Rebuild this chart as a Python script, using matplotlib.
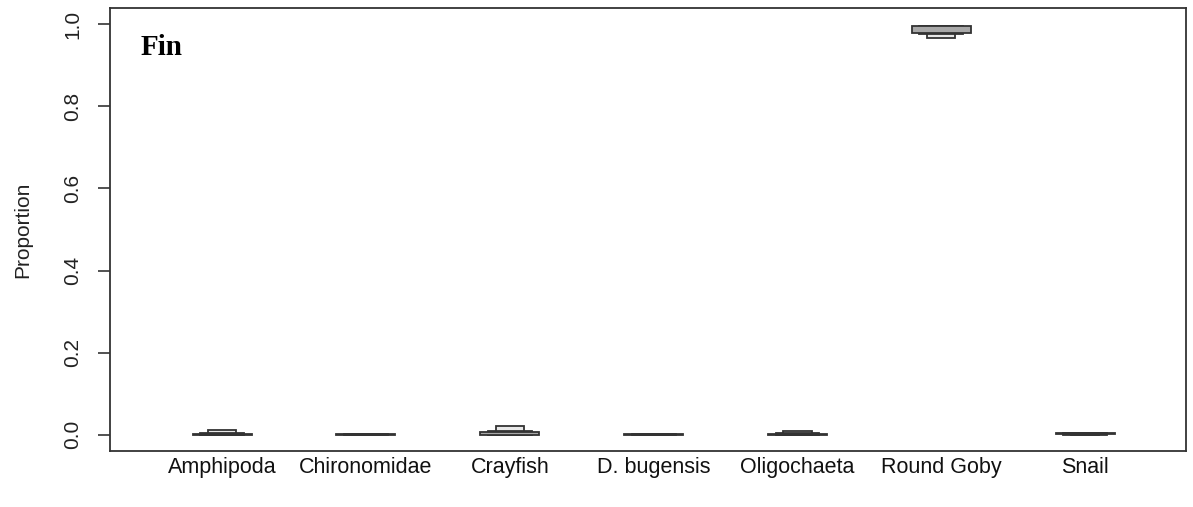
import matplotlib
matplotlib.use('Agg')
import matplotlib.pyplot as plt
import numpy as np

plt.rcParams['font.family'] = ['Liberation Sans', 'DejaVu Sans']

# sources and posterior credible intervals
sources = ['Amphipoda', 'Chironomidae', 'Crayfish', 'D. bugensis',
           'Oligochaeta', 'Round Goby', 'Snail']
ci50_lo = [0.000, 0.000, 0.000, 0.000, 0.000, 0.980, 0.001]
ci50_hi = [0.002, 0.001, 0.007, 0.001, 0.002, 0.995, 0.003]
ci75_lo = [0.000, 0.000, 0.000, 0.000, 0.000, 0.976, 0.000]
ci75_hi = [0.003, 0.001, 0.009, 0.002, 0.004, 0.996, 0.004]
ci95_lo = [0.000, 0.000, 0.000, 0.000, 0.000, 0.968, 0.000]
ci95_hi = [0.010, 0.002, 0.022, 0.002, 0.008, 0.997, 0.005]

x = np.arange(1, len(sources) + 1)
edge = '#333333'

fig = plt.figure(figsize=(11.93, 5.07), dpi=100)
ax = fig.add_axes([0.0922, 0.1105, 0.9019, 0.8737])

# narrowest/lightest first, widest on top
ax.bar(x, np.array(ci95_hi) - np.array(ci95_lo), bottom=ci95_lo, width=0.195,
       color='#e8e8e8', edgecolor=edge, linewidth=1.3, zorder=2)
ax.bar(x, np.array(ci75_hi) - np.array(ci75_lo), bottom=ci75_lo, width=0.305,
       color='#7a7a7a', edgecolor=edge, linewidth=1.3, zorder=3)
ax.bar(x, np.array(ci50_hi) - np.array(ci50_lo), bottom=ci50_lo, width=0.41,
       color='#a8a8a8', edgecolor=edge, linewidth=1.3, zorder=4)

ax.set_xlim(0.221, 7.70)
ax.set_ylim(-0.04, 1.04)
ax.set_xticks(x)
ax.set_xticklabels(sources, fontsize=15.5, color='#111111')
ax.tick_params(axis='x', length=0, pad=4)
ax.set_yticks([0.0, 0.2, 0.4, 0.6, 0.8, 1.0])
ax.set_yticklabels(['0.0', '0.2', '0.4', '0.6', '0.8', '1.0'], rotation=90,
                   va='center', fontsize=15, color='#222222')
ax.tick_params(axis='y', length=9, width=1.2, color='#333333', pad=11)
for s in ax.spines.values():
    s.set_linewidth(1.3)
    s.set_color('#333333')

ax.set_ylabel('Proportion', fontsize=15, color='#222222', labelpad=22)
ax.text(0.028, 0.942, 'Fin', transform=ax.transAxes, fontsize=21,
        fontweight='bold', family='Liberation Serif', va='top', ha='left')

fig.savefig('out.png', dpi=100)
